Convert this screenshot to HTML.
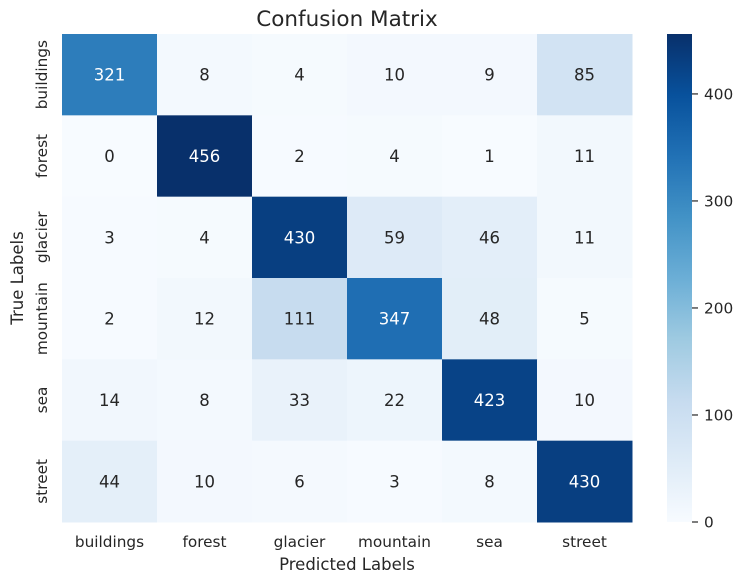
<!DOCTYPE html>
<html><head><meta charset="utf-8"><style>
body{margin:0;background:#fff;font-family:"DejaVu Sans","Liberation Sans",sans-serif;}
svg text{font-family:"DejaVu Sans","Liberation Sans",sans-serif;}
</style></head><body>
<svg id="chart" width="743" height="584" xmlns="http://www.w3.org/2000/svg">
<defs><linearGradient id="cbg" x1="0" y1="1" x2="0" y2="0">
<stop offset="0" stop-color="#f7fbff"/><stop offset="0.125" stop-color="#deebf7"/><stop offset="0.25" stop-color="#c6dbef"/><stop offset="0.375" stop-color="#9ecae1"/><stop offset="0.5" stop-color="#6baed6"/><stop offset="0.625" stop-color="#4292c6"/><stop offset="0.75" stop-color="#2171b5"/><stop offset="0.875" stop-color="#08519c"/><stop offset="1" stop-color="#08306b"/>
</linearGradient></defs>
<text x="347" y="26" font-size="21.5" text-anchor="middle" fill="#262626">Confusion Matrix</text>
<g id="cells"></g>
<rect x="667" y="34" width="25" height="488" fill="url(#cbg)"/>
<g id="cbticks"></g>
<text x="347" y="570" font-size="16.5" text-anchor="middle" fill="#262626">Predicted Labels</text>
<text transform="translate(23,278) rotate(-90)" font-size="16.5" text-anchor="middle" fill="#262626">True Labels</text>
</svg>
<script>
const categories=["buildings","forest","glacier","mountain","sea","street"];
const matrix=[[321,8,4,10,9,85],[0,456,2,4,1,11],[3,4,430,59,46,11],[2,12,111,347,48,5],[14,8,33,22,423,10],[44,10,6,3,8,430]];
const cbTicks=[0,100,200,300,400];
const stops=["#f7fbff","#deebf7","#c6dbef","#9ecae1","#6baed6","#4292c6","#2171b5","#08519c","#08306b"];
const NS="http://www.w3.org/2000/svg";
const L=62,T=34,W=570,H=488,n=categories.length;
const vmin=0,vmax=Math.max(...matrix.flat());
function hx(h){return [1,3,5].map(i=>parseInt(h.substr(i,2),16));}
function color(v){let t=(v-vmin)/(vmax-vmin)*(stops.length-1);let i=Math.min(Math.floor(t),stops.length-2);let f=t-i;let a=hx(stops[i]),b=hx(stops[i+1]);return `rgb(${a.map((c,k)=>Math.round(c+(b[k]-c)*f)).join(",")})`;}
function xs(j){return L+j*W/n;}function ys(i){return T+i*H/n;}
function cbY(v){return T+H-(v-vmin)/(vmax-vmin)*H;}
const g=document.getElementById("cells");
function mk(tag,attrs,parent){const e=document.createElementNS(NS,tag);for(const k in attrs)e.setAttribute(k,attrs[k]);parent.appendChild(e);return e;}
matrix.forEach((row,i)=>row.forEach((v,j)=>{
 const r=mk("rect",{x:xs(j),y:ys(i),width:W/n+0.5,height:H/n+0.5,fill:color(v)},g);
 
 
 const t=mk("text",{x:xs(j)+W/n/2,y:ys(i)+H/n/2+6,"font-size":16.5,"text-anchor":"middle",fill:(v/vmax>0.55?"#fff":"#262626")},g);
 t.textContent=v;
 
 
}));
categories.forEach((c,j)=>{
 const t=mk("text",{x:xs(j)+W/n/2,y:547,"font-size":15.3,"text-anchor":"middle",fill:"#262626"},g);
 t.textContent=c;
 
 
 const y=mk("text",{transform:`translate(47,${ys(j)+H/n/2}) rotate(-90)`,"font-size":15.3,"text-anchor":"middle",fill:"#262626"},g);
 y.textContent=c;
 
 
});
const cb=document.getElementById("cbticks");
cbTicks.forEach(v=>{
 const l=mk("line",{x1:692,x2:698,y1:cbY(v),y2:cbY(v),stroke:"#262626","stroke-width":1.2},cb);
 
 
 const t=mk("text",{x:704,y:cbY(v)+5.5,"font-size":15.3,fill:"#262626"},cb);
 t.textContent=v;
 
 
});
</script>
</body></html>
